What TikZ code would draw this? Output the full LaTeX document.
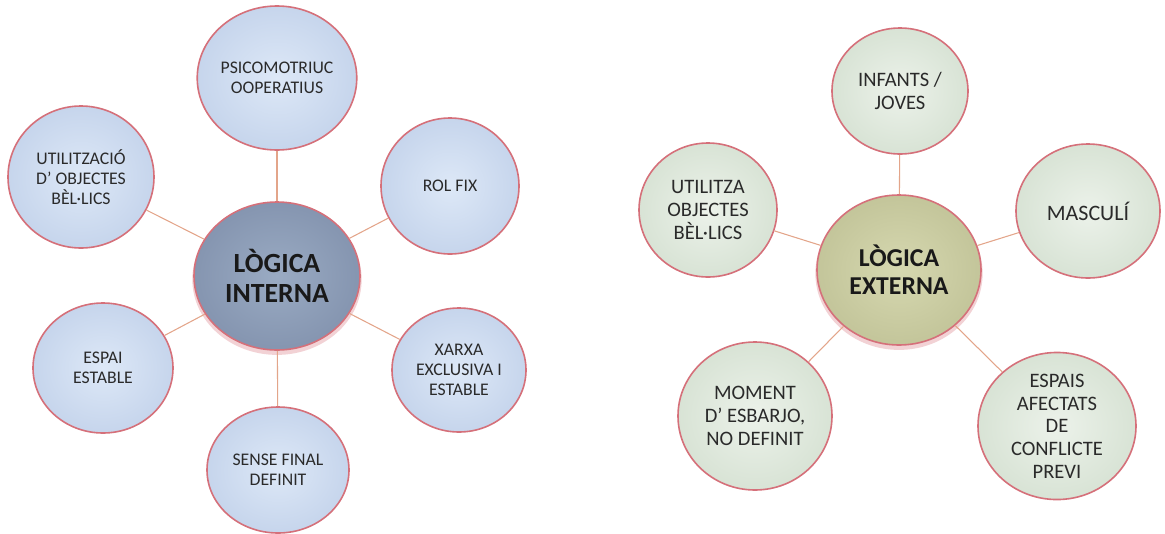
\documentclass[tikz,border=0pt]{standalone}
\usepackage{fontspec}
\setmainfont{Carlito}
\usepackage{tikz}
\usetikzlibrary{shapes.geometric, shadows}

\definecolor{ringred}{HTML}{D5707A}
\definecolor{linkcol}{HTML}{E3A58A}
\definecolor{blueIn}{HTML}{DDE8F7}
\definecolor{blueOut}{HTML}{C6D5EC}
\definecolor{coreIn}{HTML}{9AABC3}
\definecolor{coreOut}{HTML}{8595B0}
\definecolor{greenIn}{HTML}{ECF2EA}
\definecolor{greenOut}{HTML}{D8E3D5}
\definecolor{oliveIn}{HTML}{D6D8B0}
\definecolor{oliveOut}{HTML}{C3C59A}
\definecolor{labeltext}{HTML}{2A2A2A}

\begin{document}
\begin{tikzpicture}[
  x=0.75pt, y=-0.75pt,
  bub/.style 2 args={ellipse, draw=ringred, line width=1.2pt, inner sep=0pt,
    minimum width=#1*1.5pt, minimum height=#2*1.5pt, align=center},
  inbub/.style 2 args={bub={#1}{#2}, inner color=blueIn, outer color=blueOut,
    text=labeltext, font=\fontsize{13.3}{15}\selectfont},
  incore/.style 2 args={bub={#1}{#2}, inner color=coreIn, outer color=coreOut,
    drop shadow={fill=ringred!45, opacity=0.7, shadow xshift=0pt,
      shadow yshift=-2.5pt, shadow scale=1.02},
    text=black!90, font=\fontsize{20.8}{23}\selectfont\bfseries},
  exbub/.style 2 args={bub={#1}{#2}, inner color=greenIn, outer color=greenOut,
    text=labeltext, font=\fontsize{15.4}{17}\selectfont},
  excore/.style 2 args={bub={#1}{#2}, inner color=oliveIn, outer color=oliveOut,
    drop shadow={fill=ringred!45, opacity=0.7, shadow xshift=0pt,
      shadow yshift=-2.5pt, shadow scale=1.02},
    text=black!90, font=\fontsize{19.3}{21}\selectfont\bfseries},
  link/.style={draw=linkcol, line width=0.8pt},
]
  \useasboundingbox (0,0) rectangle (1165,533);

  % left: internal logic
  \node[incore={83}{74}] (intern)  at (277,276) {LÒGICA\\INTERNA};
  \node[inbub={79}{72}]  (psico)   at (277,78)  {PSICOMOTRIUC\\OOPERATIUS};
  \node[inbub={73}{71}]  (utilitz) at (81,177)  {UTILITZACIÓ\\D’ OBJECTES\\BÈL·LICS};
  \node[inbub={69}{68}]  (rolfix)  at (450,186) {ROL FIX};
  \node[inbub={70}{65}]  (espai)   at (103,368) {ESPAI\\ESTABLE};
  \node[inbub={67}{62}]  (xarxa)   at (459,370) {XARXA\\EXCLUSIVA I\\ESTABLE};
  \node[inbub={71}{63}]  (sense)   at (278,470) {SENSE FINAL\\DEFINIT};

  \draw[link] (intern) -- (psico);
  \draw[link] (intern) -- (utilitz);
  \draw[link] (intern) -- (rolfix);
  \draw[link] (intern) -- (espai);
  \draw[link] (intern) -- (xarxa);
  \draw[link] (intern) -- (sense);

  % right: external logic
  \node[excore={82}{75}] (extern)   at (899,270)  {LÒGICA\\EXTERNA};
  \node[exbub={68}{63}]  (infants)  at (900,91)   {INFANTS /\\JOVES};
  \node[exbub={72}{67}]  (masculi)  at (1088,211) {\fontsize{16.5}{18}\selectfont MASCULÍ};
  \node[exbub={69}{67}]  (utilitza) at (708,210)  {UTILITZA\\OBJECTES\\BÈL·LICS};
  \node[exbub={77}{74}]  (moment)   at (755,416)  {MOMENT\\D’ ESBARJO,\\NO DEFINIT};
  \node[exbub={79}{70}]  (espais)   at (1057,426) {ESPAIS\\AFECTATS\\DE\\CONFLICTE\\PREVI};

  \draw[link] (extern) -- (infants);
  \draw[link] (extern) -- (masculi);
  \draw[link] (extern) -- (utilitza);
  \draw[link] (extern) -- (moment);
  \draw[link] (extern) -- (espais);
\end{tikzpicture}
\end{document}
